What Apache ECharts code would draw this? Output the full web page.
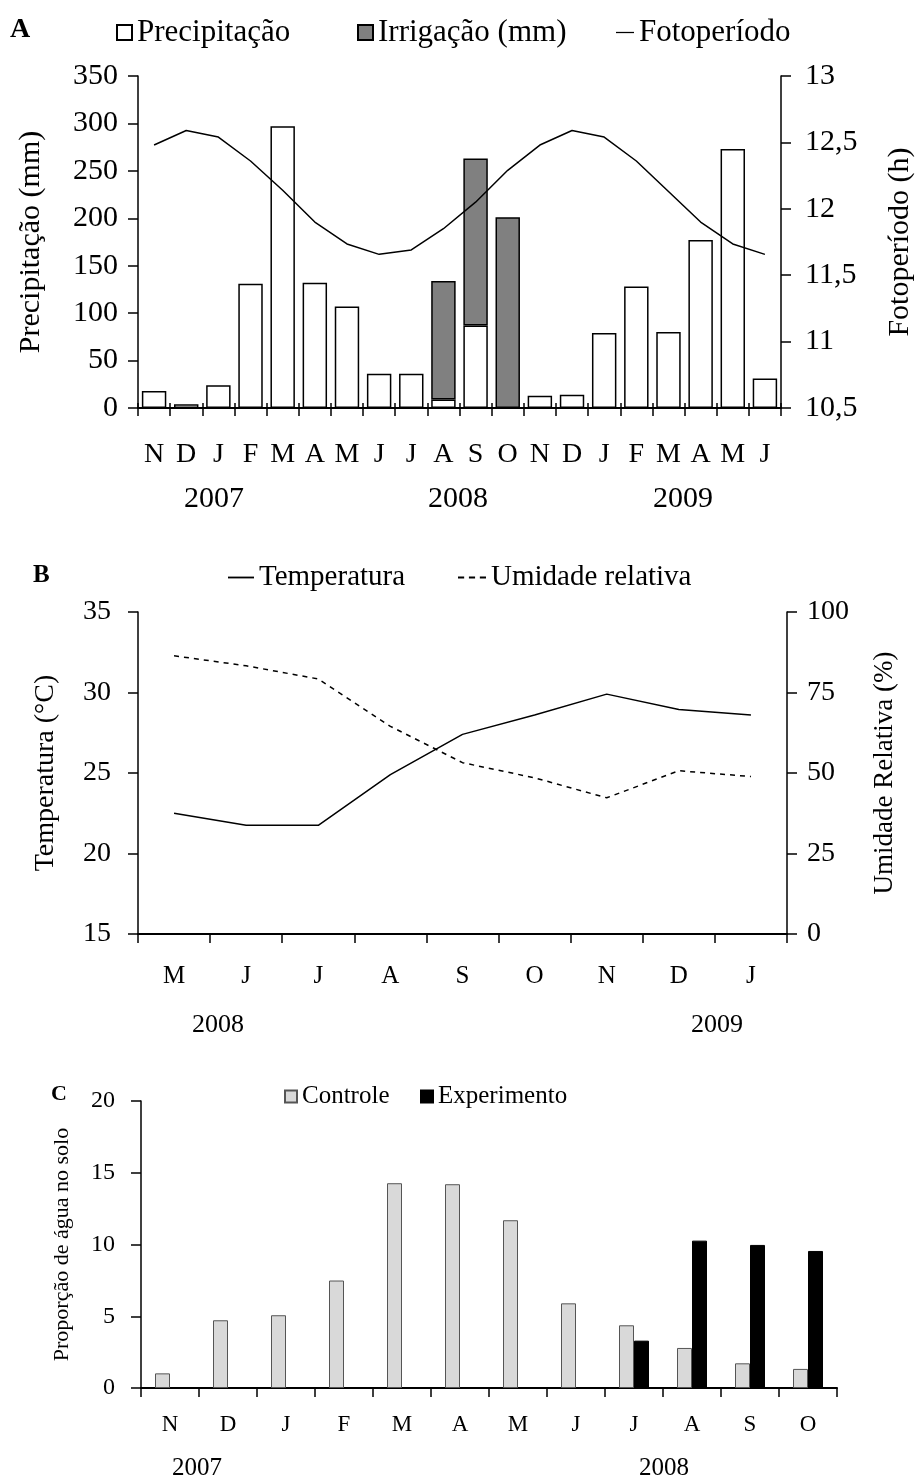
<!DOCTYPE html>
<html><head><meta charset="utf-8">
<script src="https://cdn.jsdelivr.net/npm/echarts@6/dist/echarts.min.js"></script>
<style>html,body{margin:0;padding:0;background:#fff}#c{width:923px;height:1479px}</style>
</head><body><div id="c"></div>
<script>
// ---- Panel A ----
const monthsA = ['N','D','J','F','M','A','M','J','J','A','S','O','N','D','J','F','M','A','M','J'];
const precipitacao = [18,4,24,131,297,132,107,36,36,9,87,null,13,14,79,128,80,177,273,31];
const irrigacao = [null,null,null,null,null,null,null,null,null,125,176,201,null,null,null,null,null,null,null,null];
const fotoperiodo = [12.48,12.59,12.54,12.36,12.14,11.90,11.735,11.657,11.69,11.85,12.05,12.29,12.48,12.59,12.54,12.36,12.13,11.90,11.735,11.657];
const yearsA = ['2007','2008','2009'];
// ---- Panel B ----
const monthsB = ['M','J','J','A','S','O','N','D','J'];
const temperatura = [22.5,21.75,21.75,24.9,27.4,28.6,29.9,28.95,28.6];
const umidade = [86.4,83.3,79.2,64.5,53.2,48.5,42.3,50.7,48.9];
const yearsB = ['2008','2009'];
// ---- Panel C ----
const monthsC = ['N','D','J','F','M','A','M','J','J','A','S','O'];
const controle = [1.02,4.72,5.07,7.49,14.27,14.2,11.69,5.9,4.37,2.79,1.72,1.33];
const experimento = [null,null,null,null,null,null,null,null,3.3,10.27,9.97,9.55];
const yearsC = ['2007','2008'];

const FF = '"Liberation Serif","Times New Roman",serif';
const K = '#000';
const comma = v => String(v).replace('.', ',');
const SOLID = 'path://M0,0H100V7H0Z';
const DASH = 'path://M0,0H22V7H0Z M39,0H61V7H39Z M78,0H100V7H78Z';

function yAx(grid, pos, min, max, iv, fs, margin, name, nameGap, nameFs, fmt) {
  return {
    type: 'value', gridIndex: grid, position: pos, min: min, max: max, interval: iv,
    axisLine: {show: true, lineStyle: {color: K, width: 1.5}},
    axisTick: {show: true, length: 10, lineStyle: {color: K, width: 1.5}},
    axisLabel: {color: K, fontFamily: FF, fontSize: fs, margin: margin, formatter: fmt || null},
    splitLine: {show: false},
    name: name, nameLocation: 'middle', nameGap: nameGap, nameRotate: 90,
    nameTextStyle: {color: K, fontFamily: FF, fontSize: nameFs}
  };
}
function xAx(grid, data, fs, margin, tickLen) {
  return {
    type: 'category', gridIndex: grid, data: data, boundaryGap: true,
    axisLine: {show: true, lineStyle: {color: K, width: 2}},
    axisTick: {show: true, length: tickLen, lineStyle: {color: K, width: 1.5}},
    axisLabel: {color: K, fontFamily: FF, fontSize: fs, margin: margin, interval: 0},
    splitLine: {show: false}
  };
}
function leg(name, left, top, fs, iw, ih, icon) {
  return {left: left, top: top, itemWidth: iw, itemHeight: ih, padding: 0,
    textStyle: {fontFamily: FF, fontSize: fs, color: K},
    data: [{name: name, icon: icon}]};
}

const xInnerA = {
  type: 'category', gridIndex: 0, data: monthsA, boundaryGap: true, position: 'bottom',
  axisLine: {show: false}, axisTick: {show: true, inside: true, length: 5, lineStyle: {color: K, width: 1.5}},
  axisLabel: {show: false}, splitLine: {show: false}
};

const txt = (t, x, y, fs, bold) => ({type: 'text', left: x, top: y, style: {text: t, font: (bold ? 'bold ' : '') + fs + 'px ' + FF, fill: K}});

const option = {
  backgroundColor: '#fff',
  animation: false,
  textStyle: {fontFamily: FF, color: K},
  grid: [
    {left: 138, right: 135, top: 76, height: 332},
    {left: 138, right: 136, top: 612, height: 322},
    {left: 141, right: 86, top: 1101, height: 287}
  ],
  legend: [
    leg('Precipitação', 116, 17, 31, 15, 15, 'rect'),
    leg('Irrigação (mm)', 357, 17, 31, 15, 15, 'rect'),
    leg('Fotoperíodo', 616, 17, 31, 18, 15, SOLID),
    leg('Temperatura', 228, 563, 29, 26, 14, SOLID),
    leg('Umidade relativa', 458, 563, 29, 28, 14, DASH),
    leg('Controle', 284, 1084, 25, 12, 12, 'rect'),
    leg('Experimento', 420, 1084, 25, 12, 12, 'rect')
  ],
  xAxis: [
    xAx(0, monthsA, 28, 33, 8),
    xAx(1, monthsB, 25, 30, 9),
    xAx(2, monthsC, 23, 25, 9),
    xInnerA
  ],
  yAxis: [
    yAx(0, 'left', 0, 350, 50, 30, 20, 'Precipitação (mm)', 92, 30),
    yAx(0, 'right', 10.5, 13, 0.5, 30, 24, 'Fotoperíodo (h)', 104, 30, comma),
    yAx(1, 'left', 15, 35, 5, 28, 27, 'Temperatura (°C)', 78, 28),
    yAx(1, 'right', 0, 100, 25, 28, 20, 'Umidade Relativa (%)', 84, 27),
    yAx(2, 'left', 0, 20, 5, 24, 26, 'Proporção de água no solo', 68, 22)
  ],
  series: [
    {name: 'Precipitação', type: 'bar', xAxisIndex: 0, yAxisIndex: 0, stack: 'a', data: precipitacao,
     barCategoryGap: '24%', itemStyle: {color: '#fff', borderColor: K, borderWidth: 1.5}},
    {name: 'Irrigação (mm)', type: 'bar', xAxisIndex: 0, yAxisIndex: 0, stack: 'a', data: irrigacao,
     barCategoryGap: '24%', itemStyle: {color: '#808080', borderColor: K, borderWidth: 1.5}},
    {name: 'Fotoperíodo', type: 'line', xAxisIndex: 0, yAxisIndex: 1, data: fotoperiodo,
     symbol: 'none', lineStyle: {color: K, width: 1.5}, itemStyle: {color: K}, z: 5},
    {name: 'Temperatura', type: 'line', xAxisIndex: 1, yAxisIndex: 2, data: temperatura,
     symbol: 'none', lineStyle: {color: K, width: 1.5}, itemStyle: {color: K}},
    {name: 'Umidade relativa', type: 'line', xAxisIndex: 1, yAxisIndex: 3, data: umidade,
     symbol: 'none', lineStyle: {color: K, width: 1.5, type: [5, 5]}, itemStyle: {color: K}},
    {name: 'Controle', type: 'bar', xAxisIndex: 2, yAxisIndex: 4, data: controle,
     barWidth: 15, barGap: '0%', itemStyle: {color: '#d9d9d9', borderColor: '#555', borderWidth: 1}},
    {name: 'Experimento', type: 'bar', xAxisIndex: 2, yAxisIndex: 4, data: experimento,
     barWidth: 15, barGap: '0%', itemStyle: {color: K, borderColor: K, borderWidth: 1}}
  ],
  graphic: [
    txt('A', 10, 16, 28, true),
    txt('B', 33, 563, 25, true),
    txt('C', 51, 1083, 22, true),
    txt(yearsA[0], 184, 484, 30),
    txt(yearsA[1], 428, 484, 30),
    txt(yearsA[2], 653, 484, 30),
    txt(yearsB[0], 192, 1012, 26),
    txt(yearsB[1], 691, 1012, 26),
    txt(yearsC[0], 172, 1456, 25),
    txt(yearsC[1], 639, 1456, 25)
  ]
};
const chart = echarts.init(document.getElementById('c'), null, {renderer: 'canvas'});
chart.setOption(option);
</script></body></html>
